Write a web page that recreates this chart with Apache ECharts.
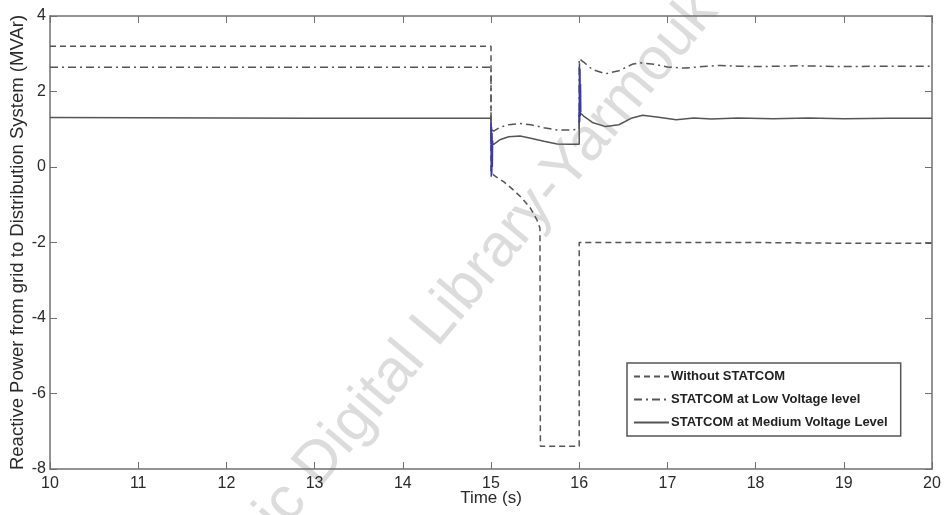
<!DOCTYPE html>
<html><head><meta charset="utf-8">
<script src="https://cdn.jsdelivr.net/npm/echarts@6/dist/echarts.min.js"></script>
<style>html,body{margin:0;padding:0;background:#fff}#c{width:944px;height:515px}</style>
</head><body><div id="c"></div>
<script>
// ---- data ----
const seriesNames = ['Without STATCOM', 'STATCOM at Low Voltage level', 'STATCOM at Medium Voltage Level'];
const xTickValues = [10, 11, 12, 13, 14, 15, 16, 17, 18, 19, 20];
const yTickValues = [-8, -6, -4, -2, 0, 2, 4];

const withoutT = [10, 15.0, 15.0, 15.05, 15.15, 15.25, 15.35, 15.45, 15.52, 15.555, 15.56, 16.0, 16.0, 17, 18, 19, 20];
const withoutQ = [3.2, 3.2, -0.15, -0.25, -0.4, -0.6, -0.82, -1.1, -1.4, -1.62, -7.4, -7.4, -2.0, -2.0, -2.0, -2.02, -2.02];

const lowT = [10, 15.0, 15.0, 15.03, 15.1, 15.2, 15.33, 15.45, 15.6, 15.75, 15.9, 16.0, 16.0, 16.05, 16.15, 16.3, 16.45, 16.6, 16.7, 16.85, 17.0, 17.2, 17.4, 17.6, 17.8, 18, 18.5, 19, 19.5, 20];
const lowQ = [2.64, 2.64, 1.0, 0.95, 1.05, 1.12, 1.15, 1.12, 1.04, 0.98, 0.98, 1.0, 2.87, 2.78, 2.58, 2.47, 2.55, 2.72, 2.76, 2.72, 2.65, 2.62, 2.66, 2.69, 2.67, 2.66, 2.68, 2.66, 2.67, 2.67];

const medT = [10, 13, 15.0, 15.0, 15.03, 15.1, 15.2, 15.33, 15.45, 15.6, 15.75, 15.9, 16.0, 16.0, 16.05, 16.15, 16.3, 16.45, 16.6, 16.72, 16.9, 17.1, 17.3, 17.5, 17.8, 18.2, 18.6, 19, 19.5, 20];
const medQ = [1.31, 1.29, 1.29, 0.62, 0.6, 0.72, 0.8, 0.82, 0.76, 0.68, 0.61, 0.6, 0.6, 1.46, 1.35, 1.18, 1.07, 1.12, 1.3, 1.37, 1.32, 1.25, 1.3, 1.27, 1.3, 1.28, 1.3, 1.28, 1.29, 1.29];

const trans1T = [15.0, 15.003, 15.006, 15.009, 15.012, 15.015, 15.018, 15.021];
const trans1Q = [1.2, -0.26, 1.06, -0.2, 0.9, 0.0, 0.7, 0.6];
const trans2T = [16.0, 16.003, 16.006, 16.009, 16.012, 16.015, 16.018];
const trans2Q = [1.17, 2.75, 1.2, 2.6, 1.35, 2.2, 1.46];

const watermarkLeft = 'Arabic Digital Library-';
const watermarkRight = 'Yarmouk University';

// ---- chart ----
const zip = (a, b) => a.map((v, i) => [v, b[i]]);
const FONT = 'Liberation Sans, Arial, sans-serif';
const LINE = '#555';
const AX = '#707070';
const WM = 'rgba(185,185,185,0.5)';
const ROT = 50 * Math.PI / 180;

const chart = echarts.init(document.getElementById('c'), null, {renderer: 'canvas'});
const axisCommon = {
  axisLine: {show: true, onZero: false, lineStyle: {color: AX, width: 1.5}},
  splitLine: {show: false},
};
chart.setOption({
  animation: false,
  backgroundColor: '#fff',
  grid: {left: 50, right: 12, top: 16, bottom: 46, containLabel: false, outerBoundsMode: 'none'},
  graphic: [
    {type: 'text', z: 0, x: 555, y: 182, rotation: ROT,
      style: {text: watermarkLeft, fill: WM, font: '60px ' + FONT, textAlign: 'right', textVerticalAlign: 'middle'}},
    {type: 'text', z: 0, x: 555, y: 182, rotation: ROT,
      style: {text: watermarkRight, fill: WM, font: '60px ' + FONT, textAlign: 'left', textVerticalAlign: 'middle'}}
  ],
  legend: {
    orient: 'vertical', left: 627, top: 363,
    data: seriesNames,
    itemWidth: 35, itemHeight: 13, itemGap: 10,
    padding: [7, 13, 7, 6],
    itemStyle: {opacity: 0, color: 'transparent', borderWidth: 0},
    borderColor: '#555', borderWidth: 1.5, backgroundColor: '#fff',
    textStyle: {fontFamily: FONT, fontWeight: 'bold', fontSize: 13, color: '#222', padding: [0, 0, 0, -3]}
  },
  xAxis: [{
    type: 'value', min: 10, max: 20, interval: 1, position: 'bottom', ...axisCommon,
    axisTick: {show: true, inside: true, length: 7, lineStyle: {color: AX}},
    axisLabel: {fontFamily: FONT, fontSize: 16, color: '#2a2a2a', margin: 7,
      formatter: v => xTickValues.includes(v) ? String(v) : ''},
    name: 'Time (s)', nameLocation: 'middle', nameGap: 21, nameMoveOverlap: false,
    nameTextStyle: {fontFamily: FONT, fontSize: 17, color: '#2a2a2a'}
  }, {
    type: 'value', min: 10, max: 20, interval: 1, position: 'top', ...axisCommon,
    axisTick: {show: true, inside: true, length: 7, lineStyle: {color: AX}},
    axisLabel: {show: false}
  }],
  yAxis: [{
    type: 'value', min: -8, max: 4, interval: 2, position: 'left', ...axisCommon,
    axisTick: {show: true, inside: true, length: 7, lineStyle: {color: AX}},
    axisLabel: {fontFamily: FONT, fontSize: 16, color: '#2a2a2a', margin: 4,
      formatter: v => yTickValues.includes(v) ? String(v) : ''},
    name: 'Reactive Power from grid to Distribution System (MVAr)', nameLocation: 'middle', nameGap: 23,
    nameMoveOverlap: false,
    nameTextStyle: {fontFamily: FONT, fontSize: 18.5, color: '#2a2a2a'}
  }, {
    type: 'value', min: -8, max: 4, interval: 2, position: 'right', ...axisCommon,
    axisTick: {show: true, inside: true, length: 7, lineStyle: {color: AX}},
    axisLabel: {show: false}
  }],
  series: [
    {name: seriesNames[0], type: 'line', data: zip(withoutT, withoutQ), showSymbol: false, symbol: 'none', z: 3,
      lineStyle: {color: LINE, width: 1.5, type: [6, 4]}, itemStyle: {color: LINE}},
    {name: seriesNames[1], type: 'line', data: zip(lowT, lowQ), showSymbol: false, symbol: 'none', z: 3,
      lineStyle: {color: LINE, width: 1.5, type: [8, 4, 2, 4]}, itemStyle: {color: LINE}},
    {name: seriesNames[2], type: 'line', data: zip(medT, medQ), showSymbol: false, symbol: 'none', z: 3,
      lineStyle: {color: LINE, width: 1.5, type: 'solid'}, itemStyle: {color: LINE}},
    {name: 'trans1', type: 'line', data: zip(trans1T, trans1Q), showSymbol: false, symbol: 'none', z: 4,
      lineStyle: {color: '#3a3aa0', width: 1.5}},
    {name: 'trans2', type: 'line', data: zip(trans2T, trans2Q), showSymbol: false, symbol: 'none', z: 4,
      lineStyle: {color: '#3a3aa0', width: 1.5}}
  ]
});
</script>
</body></html>
